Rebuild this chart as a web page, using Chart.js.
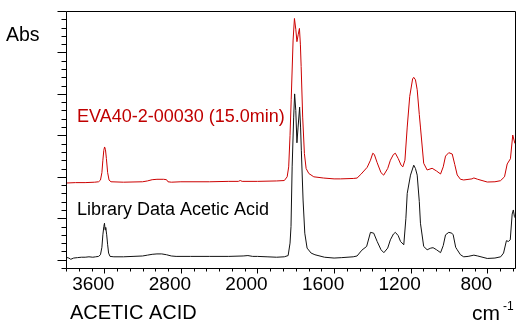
<!DOCTYPE html>
<html><head><meta charset="utf-8">
<script src="https://cdn.jsdelivr.net/npm/chart.js@4.4.0/dist/chart.umd.min.js"></script>
<style>html,body{margin:0;padding:0;background:#fff;} #wrap{width:526px;height:334px;}</style>
</head><body><div id="wrap"><canvas id="c" width="526" height="334"></canvas></div>
<script>
// ---- data (wavenumber in cm-1, absorbance in arbitrary units) ----
const libraryWavenumbers = [
  4000,3970,3950,3920,3880,3840,3800,3760,3720,3690,
  3660,3640,3625,3615,3605,3598,3592,3585,3575,3565,
  3555,3540,3500,3400,3300,3200,3150,3100,3050,3000,
  2950,2900,2850,2700,2500,2300,2150,2100,2050,2000,
  1950,1900,1860,1840,1830,1825,1819,1811,1806,1800,
  1794,1788,1780,1775,1771,1762,1753,1741,1720,1700,
  1650,1600,1560,1500,1480,1455,1430,1410,1393,1375,
  1355,1340,1320,1306,1290,1280,1265,1253,1236,1225,
  1218,1201,1184,1175,1166,1155,1149,1132,1114,1095,
  1083,1065,1044,1030,1018,1001,985,978,965,957,
  940,923,900,870,850,800,760,730,715,700,
  690,680,670,664,658,652
];
const libraryAbs = [
  0.03,0.02,0.005,0.02,0.025,0.03,0.03,0.035,0.03,0.035,
  0.04,0.06,0.15,0.30,0.40,0.44,0.36,0.39,0.30,0.18,
  0.08,0.04,0.035,0.035,0.04,0.045,0.055,0.065,0.07,0.07,
  0.06,0.045,0.04,0.04,0.04,0.04,0.045,0.05,0.04,0.04,
  0.035,0.03,0.035,0.05,0.2,0.4,1.12,1.72,2.0,1.8,
  1.41,1.6,1.84,1.6,1.32,0.72,0.32,0.14,0.08,0.06,
  0.03,0.02,0.025,0.035,0.045,0.115,0.16,0.33,0.32,0.22,
  0.12,0.085,0.14,0.24,0.31,0.33,0.29,0.22,0.18,0.5,
  0.8,1.02,1.14,1.10,1.02,0.7,0.44,0.16,0.12,0.14,
  0.145,0.12,0.085,0.17,0.30,0.33,0.32,0.30,0.15,0.12,
  0.06,0.035,0.04,0.055,0.045,0.015,0.02,0.035,0.08,0.23,
  0.22,0.24,0.55,0.60,0.52,0.5
];
const sampleWavenumbers = [
  4000,3900,3800,3700,3660,3640,3625,3615,3605,3597,
  3588,3578,3565,3550,3530,3400,3200,3150,3100,3050,
  2980,2950,2935,2900,2800,2500,2300,2200,2180,2160,
  2000,1900,1860,1845,1837,1830,1824,1814,1807,1800,
  1794,1787,1781,1776,1772,1764,1755,1746,1732,1706,
  1654,1600,1567,1500,1480,1460,1427,1410,1398,1390,
  1375,1355,1341,1320,1306,1290,1280,1265,1250,1241,
  1230,1218,1205,1190,1184,1175,1166,1155,1149,1132,
  1114,1088,1065,1044,1030,1018,1001,983,970,957,
  940,923,880,870,850,800,760,731,710,696,
  679,667,656,652
];
const sampleAbs = [
  0.925,0.93,0.93,0.935,0.94,0.96,1.05,1.20,1.32,1.36,
  1.33,1.22,1.05,0.96,0.94,0.935,0.94,0.95,0.965,0.97,
  0.97,0.965,0.94,0.935,0.94,0.94,0.945,0.945,0.955,0.945,
  0.945,0.95,0.955,1.0,1.12,1.5,1.93,2.65,2.91,2.78,
  2.63,2.72,2.79,2.60,2.33,1.72,1.28,1.10,1.04,1.0,
  0.985,0.975,0.975,0.98,0.985,1.03,1.115,1.2,1.284,1.27,
  1.17,1.05,1.02,1.10,1.2,1.27,1.284,1.22,1.14,1.12,
  1.2,1.60,1.97,2.18,2.20,2.17,2.05,1.75,1.60,1.163,
  1.082,1.103,1.07,1.034,1.12,1.25,1.291,1.275,1.15,1.022,
  0.97,0.962,0.975,0.986,0.97,0.937,0.94,0.953,1.0,1.155,
  1.218,1.504,1.404,1.40
];
const xTickLabels = [3600, 2800, 2000, 1600, 1200, 800];
const xRange = [4000, 650];
const yRange = [-0.1, 3.0];
const sampleLabel = 'EVA40-2-00030 (15.0min)';
const libraryLabel = 'Library Data Acetic Acid';
const titleText = 'ACETIC ACID';

// ---- axis with scale change at 2000 cm-1 (upper region compressed 2x) ----
const BREAK = 2000;
const toAxis = wn => wn > BREAK ? BREAK + (wn - BREAK) / 2 : wn;
const fromAxis = t => t > BREAK ? BREAK + (t - BREAK) * 2 : t;

const majorT = xTickLabels.map(toAxis);
const minorStep = (majorT[0] - majorT[1]) / 6;
const tickT = [];
for (let v = toAxis(xRange[0]); v >= toAxis(xRange[1]) - 1e-6; v -= minorStep) tickT.push(Math.round(v * 1000) / 1000);
const isMajorT = v => majorT.some(m => Math.abs(m - v) < 0.01);

const pts = (w, a) => w.map((wn, i) => ({x: toAxis(wn), y: a[i]}));

const FONT = '"Liberation Sans", Arial, sans-serif';

const framePlugin = {
  id: 'frame',
  afterDraw(chart) {
    const {ctx, chartArea: ca, scales: {x, y}} = chart;
    ctx.save();
    ctx.strokeStyle = '#000';
    ctx.lineWidth = 1;
    ctx.beginPath();
    const L = Math.round(ca.left) + 0.5, R = Math.round(ca.right) - 0.5;
    const T = Math.round(ca.top) + 0.5, B = Math.round(ca.bottom) + 0.5;
    ctx.moveTo(L, T); ctx.lineTo(R, T); ctx.lineTo(R, B); ctx.lineTo(L, B); ctx.closePath();
    // x ticks
    tickT.forEach(v => {
      const px = Math.round(x.getPixelForValue(v)) + 0.5;
      const len = isMajorT(v) ? 5 : 3;
      ctx.moveTo(px, B); ctx.lineTo(px, B + len);
    });
    // y ticks
    for (let k = 0; k <= 31; k++) {
      const val = yRange[1] - k * 0.1;
      const py = Math.round(y.getPixelForValue(val)) + 0.5;
      const len = (k % 5 === 0) ? 9 : 5;
      ctx.moveTo(L, py); ctx.lineTo(L - len, py);
    }
    ctx.stroke();

    ctx.fillStyle = '#000';
    // x tick labels, positioned from the x scale
    ctx.font = '19px ' + FONT;
    ctx.textAlign = 'center';
    ctx.textBaseline = 'alphabetic';
    xTickLabels.forEach(lbl => {
      ctx.fillText(String(lbl), x.getPixelForValue(toAxis(lbl)) - 11, 290);
    });
    ctx.textAlign = 'left';
    ctx.font = '19.5px ' + FONT;
    ctx.fillText('Abs', 6, 41);
    ctx.font = '20px ' + FONT;
    ctx.fillText(titleText, 70, 319);
    ctx.font = '21px ' + FONT;
    ctx.fillText('cm', 472, 320);
    ctx.font = '12px ' + FONT;
    ctx.fillText('-1', 503, 310);
    ctx.font = '18px ' + FONT;
    ctx.fillText(libraryLabel, 77, 215);
    ctx.fillStyle = '#c00000';
    ctx.fillText(sampleLabel, 77, 122);
    ctx.restore();
  }
};

new Chart(document.getElementById('c'), {
  type: 'line',
  data: {
    datasets: [
      {label: sampleLabel, data: pts(sampleWavenumbers, sampleAbs), borderColor: '#cc0000', borderWidth: 1, pointRadius: 0, tension: 0, fill: false},
      {label: libraryLabel, data: pts(libraryWavenumbers, libraryAbs), borderColor: '#111111', borderWidth: 1, pointRadius: 0, tension: 0, fill: false}
    ]
  },
  options: {
    responsive: false,
    devicePixelRatio: 1,
    animation: false,
    layout: {padding: {left: 66, right: 10, top: 11, bottom: 0}},
    plugins: {legend: {display: false}, tooltip: {enabled: false}, title: {display: false}},
    scales: {
      x: {
        type: 'linear', reverse: true,
        min: toAxis(xRange[1]), max: toAxis(xRange[0]),
        afterBuildTicks: s => { s.ticks = tickT.map(v => ({value: v})); },
        afterFit: s => { s.height = 66; },
        grid: {display: false, drawTicks: false},
        border: {display: false},
        ticks: {display: false, autoSkip: false}
      },
      y: {type: 'linear', display: false, min: yRange[0], max: yRange[1]}
    }
  },
  plugins: [framePlugin]
});
</script></body></html>
